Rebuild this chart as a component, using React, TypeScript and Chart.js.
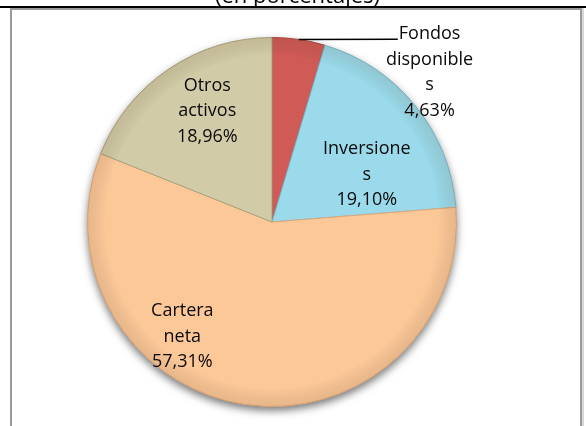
import React, { useEffect, useRef } from "react";
import { Chart, registerables } from "chart.js";

Chart.register(...registerables);

const categories = ["Fondos disponibles", "Inversiones", "Cartera neta", "Otros activos"];
const values = [4.63, 19.1, 57.31, 18.96];
const labelLines = [["Fondos", "disponible", "s"], ["Inversione", "s"], ["Cartera", "neta"], ["Otros", "activos"]];
const titleText = "(en porcentajes)";

const sliceColors = ["#D05A56", "#9ADAEA", "#FCC898", "#D2CBA7"];
const sliceBorders = ["#A8443F", "#74B9CC", "#DCA779", "#A9A27F"];
// label block centres, in units of the pie radius, relative to the pie centre
const labelOffsets = [
  [0.854, -0.81],
  [0.514, -0.257],
  [-0.486, 0.622],
  [-0.351, -0.6],
];
const FONT = "18px 'Open Sans'";
const LINE_H = 25.5;

const fmt = (v: number) => v.toFixed(2).replace(".", ",") + "%";

const decorPlugin = {
  id: "decor",
  beforeDraw(chart: any) {
    const ctx = chart.ctx;
    const W = chart.width;
    const H = chart.height;
    ctx.save();
    ctx.fillStyle = "#ffffff";
    ctx.fillRect(0, 0, W, H);
    // title (cut off at the top)
    ctx.fillStyle = "#000";
    ctx.font = "22px 'Open Sans'";
    ctx.textAlign = "center";
    ctx.textBaseline = "alphabetic";
    ctx.fillText(titleText, 297.5, 2.5);
    // frame lines
    ctx.fillStyle = "#000";
    ctx.fillRect(0, 6, W, 2);
    ctx.fillStyle = "#9a9a9a";
    ctx.fillRect(10, 8, 572, 2);
    ctx.fillRect(10, 8, 2, H - 8);
    ctx.fillRect(580, 8, 2, H - 8);
    ctx.fillStyle = "#d8d8d8";
    ctx.fillRect(582, 8, 2, H - 8);
    ctx.fillStyle = "#ffffff";
    ctx.fillRect(12, 10, 568, 4);
    ctx.restore();
  },
  beforeDatasetsDraw(chart: any) {
    const meta = chart.getDatasetMeta(0);
    const a = meta.data[0];
    if (!a) return;
    const { x, y, outerRadius } = a.getProps(["x", "y", "outerRadius"], true);
    const ctx = chart.ctx;
    ctx.save();
    ctx.shadowColor = "rgba(0,0,0,0.55)";
    ctx.shadowBlur = 9;
    ctx.shadowOffsetY = 4;
    ctx.beginPath();
    ctx.arc(x, y, outerRadius, 0, Math.PI * 2);
    ctx.fillStyle = sliceColors[2];
    ctx.fill();
    ctx.restore();
  },
  afterDatasetsDraw(chart: any) {
    const meta = chart.getDatasetMeta(0);
    const ctx = chart.ctx;
    const a0 = meta.data[0];
    const { x, y, outerRadius } = a0.getProps(["x", "y", "outerRadius"], true);
    // soft rim bevel
    ctx.save();
    const g = ctx.createRadialGradient(x, y, outerRadius * 0.9, x, y, outerRadius);
    g.addColorStop(0, "rgba(0,0,0,0)");
    g.addColorStop(1, "rgba(90,60,30,0.12)");
    ctx.beginPath();
    ctx.arc(x, y, outerRadius, 0, Math.PI * 2);
    ctx.fillStyle = g;
    ctx.fill();
    ctx.restore();

    ctx.save();
    ctx.font = FONT;
    ctx.fillStyle = "#0a0a0a";
    ctx.textAlign = "center";
    ctx.textBaseline = "middle";
    meta.data.forEach((arc: any, i: number) => {
      const lines = [...labelLines[i], fmt(values[i])];
      const cx = x + labelOffsets[i][0] * outerRadius;
      const cy = y + labelOffsets[i][1] * outerRadius;
      const first = cy - ((lines.length - 1) / 2) * LINE_H;
      lines.forEach((t, k) => ctx.fillText(t, cx, first + k * LINE_H));
      if (i === 0) {
        const p = arc.getProps(["startAngle", "endAngle"], true);
        const mid = (p.startAngle + p.endAngle) / 2;
        const sx = x + Math.cos(mid) * outerRadius;
        const sy = y + Math.sin(mid) * outerRadius;
        const ex = cx - ctx.measureText(lines[0]).width / 2 - 1;
        const ey = first + 5;
        ctx.beginPath();
        ctx.moveTo(sx, sy);
        ctx.lineTo(ex, ey);
        ctx.strokeStyle = "#000";
        ctx.lineWidth = 1.5;
        ctx.stroke();
      }
    });
    ctx.restore();
  },
};

export default function App() {
  const ref = useRef<HTMLCanvasElement>(null);
  useEffect(() => {
    document.body.style.margin = "0";
    const chart = new Chart(ref.current as HTMLCanvasElement, {
      type: "pie",
      data: {
        labels: categories,
        datasets: [
          {
            data: values,
            backgroundColor: sliceColors,
            borderColor: sliceBorders,
            borderWidth: 1,
          },
        ],
      },
      options: {
        animation: false,
        responsive: false,
        devicePixelRatio: 1,
        layout: { padding: { left: 87, top: 37, right: 129, bottom: 19 } },
        plugins: { legend: { display: false }, tooltip: { enabled: false } },
      },
      plugins: [decorPlugin],
    });
    return () => chart.destroy();
  }, []);
  return (
    <div style={{ width: 586, height: 426, position: "relative" }}>
      <canvas ref={ref} width={586} height={426} style={{ display: "block" }} />
    </div>
  );
}
